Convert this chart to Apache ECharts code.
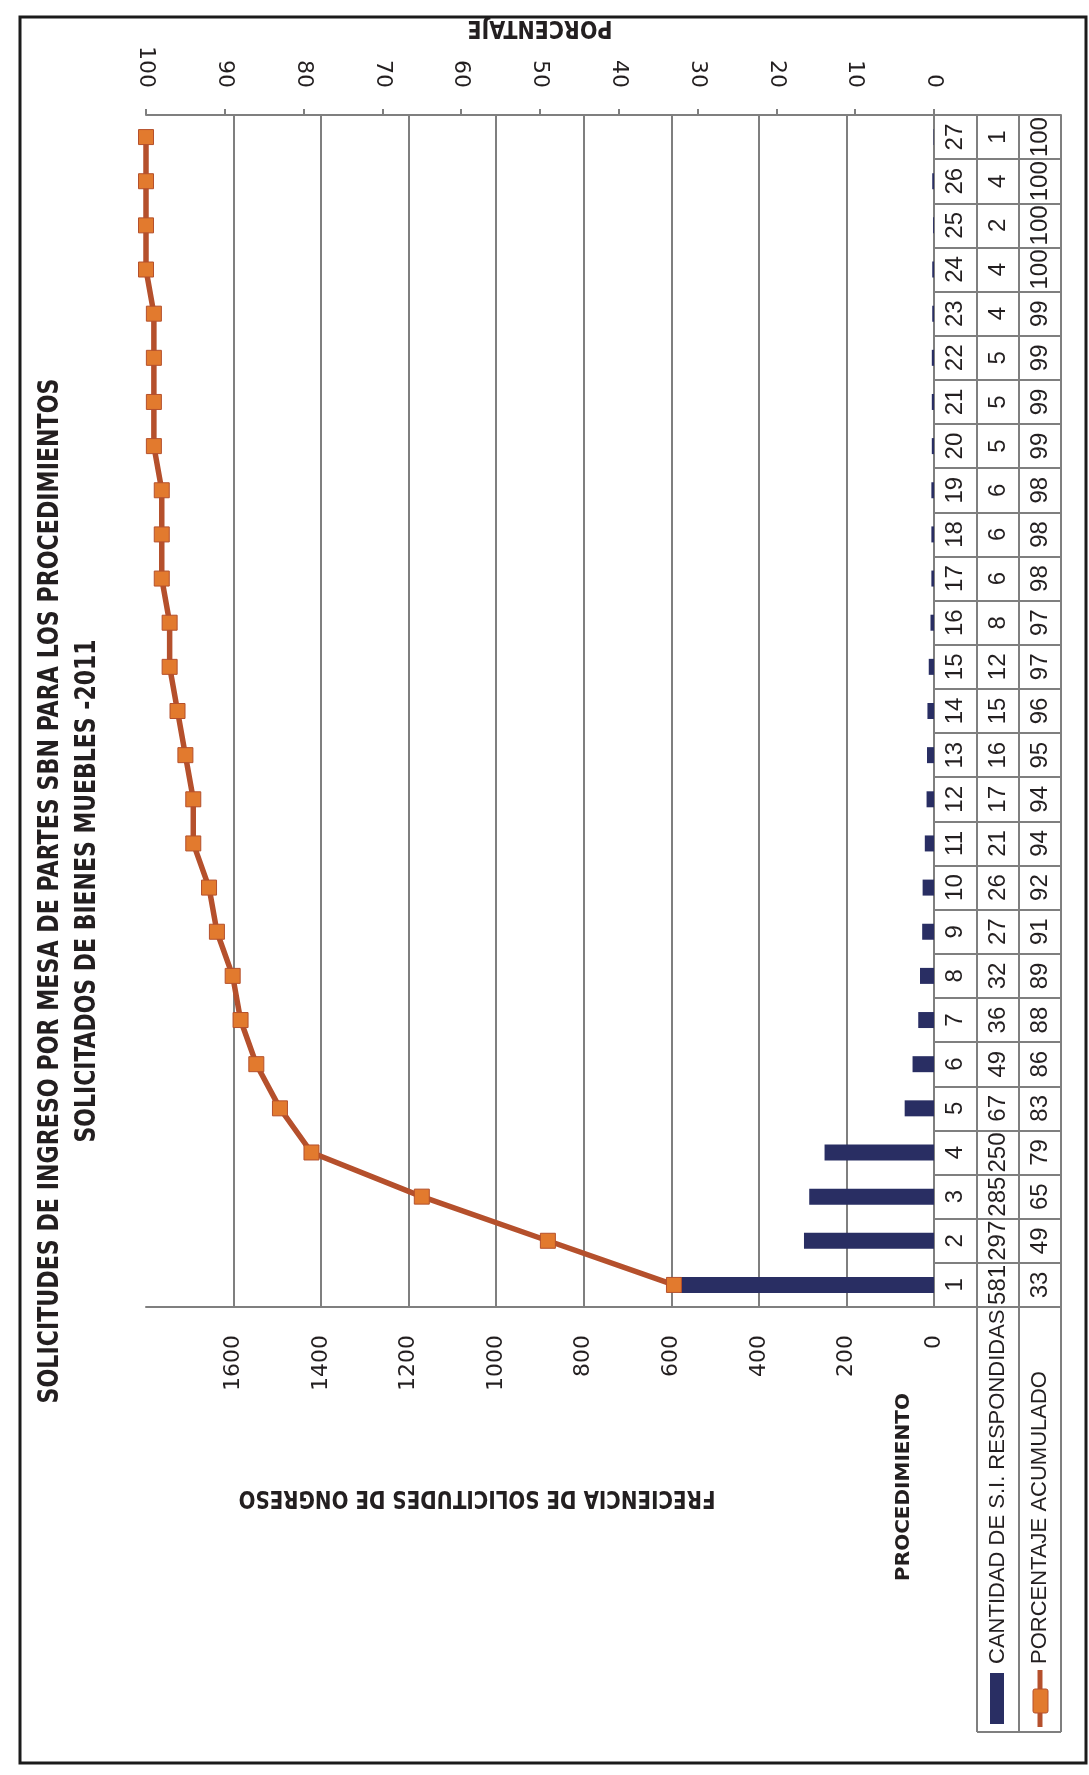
<!DOCTYPE html>
<html>
<head>
<meta charset="utf-8">
<title>Solicitudes de ingreso por mesa de partes SBN - 2011</title>
<script src="https://cdn.jsdelivr.net/npm/echarts@6/dist/echarts.min.js"></script>
<style>
  html, body { margin: 0; padding: 0; background: #ffffff; }
  #chart { width: 1089px; height: 1775px; }
</style>
</head>
<body>
<div id="chart"></div>
<script>
// Procedures (category axis, numbered 1..27)
const procedimientos = ['1','2','3','4','5','6','7','8','9','10','11','12','13','14',
  '15','16','17','18','19','20','21','22','23','24','25','26','27'];

// Answered requests per procedure
const cantidadRespondidas = [581, 297, 285, 250, 67, 49, 36, 32, 27, 26, 21, 17, 16, 15,
  12, 8, 6, 6, 6, 5, 5, 5, 4, 4, 2, 4, 1];

// Cumulative percentage per procedure
const porcentajeAcumulado = [33, 49, 65, 79, 83, 86, 88, 89, 91, 92, 94, 94, 95, 96,
  97, 97, 98, 98, 98, 99, 99, 99, 99, 100, 100, 100, 100];

// Tick labels of the two value axes
const frecuenciaTicks = [0, 200, 400, 600, 800, 1000, 1200, 1400, 1600];
const porcentajeTicks = [0, 10, 20, 30, 40, 50, 60, 70, 80, 90, 100];
const frecuenciaMax = 1800;

const tituloLineas = [
  'SOLICITUDES DE INGRESO POR MESA DE PARTES SBN PARA LOS PROCEDIMIENTOS',
  'SOLICITADOS DE BIENES MUEBLES -2011'
];
const serieNombres = ['CANTIDAD DE S.I. RESPONDIDAS', 'PORCENTAJE ACUMULADO'];

// ---- styling ----
const INK = '#231f20';
const GRIDGRAY = '#7f7f7f';
const NAVY = '#292e63';
const BROWN = '#b5502c';
const ORANGE = '#e27a2e';
const NARROW = '"Liberation Sans Narrow", "DejaVu Sans Condensed", "Arial Narrow", sans-serif';
const WIDE = '"DejaVu Sans", Verdana, sans-serif';
const TABLE = '"Liberation Sans", Arial, sans-serif';

// plot box (portrait layout: categories run bottom->top, values right->left)
const PLOT = { left: 146, right: 934, top: 115, bottom: 1307 };
const ROW = [934, 977, 1019, 1061];      // table row borders
const TABLE_END = 1732;                   // bottom of the header cells

const measureCtx = document.createElement('canvas').getContext('2d');
function fitScale(text, weight, size, family, target) {
  measureCtx.font = weight + ' ' + size + 'px ' + family;
  const w = measureCtx.measureText(text).width;
  return w > 0 ? target / w : 1;
}

function rotText(text, x, y, rot, size, family, weight, align, targetLen) {
  const el = {
    type: 'text', x: x, y: y, rotation: rot, silent: true, z: 10,
    style: {
      text: text, fontSize: size, fontFamily: family, fontWeight: weight,
      fill: INK, align: align, verticalAlign: 'middle'
    }
  };
  if (targetLen) el.scaleX = fitScale(text, weight, size, family, targetLen);
  return el;
}

const chart = echarts.init(document.getElementById('chart'), null, { renderer: 'canvas' });

const axisLabelBase = { fontFamily: WIDE, fontSize: 22, color: INK };
const tableLabelBase = { fontFamily: TABLE, fontSize: 24, color: INK, rotate: 90, margin: 9, interval: 0 };
const lineGray = { color: GRIDGRAY, width: 2 };

function tableAxis(offset, values) {
  return {
    type: 'category', position: 'right', offset: offset, data: procedimientos,
    axisLine: { show: true, onZero: false, lineStyle: lineGray },
    axisTick: { show: false },
    splitLine: { show: false },
    axisLabel: values
      ? Object.assign({}, tableLabelBase, { formatter: (v, i) => String(values[i]) })
      : { show: false }
  };
}

const option = {
  animation: false,
  backgroundColor: '#ffffff',
  grid: {
    left: PLOT.left, right: 1089 - PLOT.right, top: PLOT.top, bottom: 1775 - PLOT.bottom,
    containLabel: false
  },
  xAxis: [
    {
      type: 'value', position: 'bottom', inverse: true,
      min: frecuenciaTicks[0], max: frecuenciaMax,
      interval: frecuenciaTicks[1] - frecuenciaTicks[0],
      axisLine: { show: true, onZero: false, lineStyle: lineGray },
      axisTick: { show: false },
      axisLabel: Object.assign({}, axisLabelBase, {
        rotate: 90, margin: 28, showMaxLabel: false,
        formatter: v => (frecuenciaTicks.indexOf(v) >= 0 ? String(v) : '')
      }),
      splitLine: { show: true, showMaxLine: false, lineStyle: lineGray }
    },
    {
      type: 'value', position: 'top', inverse: true,
      min: porcentajeTicks[0], max: porcentajeTicks[porcentajeTicks.length - 1],
      interval: porcentajeTicks[1] - porcentajeTicks[0],
      axisLine: { show: true, onZero: false, lineStyle: lineGray },
      axisTick: { show: true, length: 6, lineStyle: lineGray },
      axisLabel: Object.assign({}, axisLabelBase, { rotate: 90, margin: 27 }),
      splitLine: { show: false }
    }
  ],
  yAxis: [
    {
      type: 'category', position: 'right', data: procedimientos,
      axisLine: { show: true, onZero: false, lineStyle: lineGray },
      axisTick: { show: true, interval: 0, length: ROW[3] - ROW[0], lineStyle: lineGray },
      splitLine: { show: false },
      axisLabel: Object.assign({}, tableLabelBase)
    },
    tableAxis(ROW[1] - ROW[0], cantidadRespondidas),
    tableAxis(ROW[2] - ROW[0], porcentajeAcumulado),
    tableAxis(ROW[3] - ROW[0], null)
  ],
  series: [
    {
      name: serieNombres[0], type: 'bar', xAxisIndex: 0, yAxisIndex: 0,
      data: cantidadRespondidas, barWidth: 16,
      itemStyle: { color: NAVY }
    },
    {
      name: serieNombres[1], type: 'line', xAxisIndex: 1, yAxisIndex: 0,
      data: porcentajeAcumulado, symbol: 'rect', symbolSize: 15,
      lineStyle: { color: BROWN, width: 5.5 },
      itemStyle: { color: ORANGE, borderColor: BROWN, borderWidth: 1 },
      z: 5
    }
  ],
  graphic: [
    // outer frame
    { type: 'rect', silent: true, z: 20,
      shape: { x: 20, y: 17, width: 1066, height: 1746 },
      style: { fill: 'none', stroke: '#1b1b1b', lineWidth: 3 } },
    // title (two lines, reading bottom to top)
    rotText(tituloLineas[0], 51, 891, Math.PI / 2, 28, NARROW, 'bold', 'center', 1025),
    rotText(tituloLineas[1], 88, 891, Math.PI / 2, 28, NARROW, 'bold', 'center', 503),
    // axis titles
    rotText('PORCENTAJE', 540, 27, Math.PI, 24, NARROW, 'bold', 'center', 145),
    rotText('FRECIENCIA DE SOLICITUDES DE ONGRESO', 477, 1497, Math.PI, 24, NARROW, 'bold', 'center', 477),
    rotText('PROCEDIMIENTO', 904, 1487, Math.PI / 2, 20, WIDE, 'bold', 'center', null),
    // header cells of the data table
    { type: 'line', silent: true, shape: { x1: ROW[1], y1: PLOT.bottom, x2: ROW[1], y2: TABLE_END }, style: { stroke: GRIDGRAY, lineWidth: 2 } },
    { type: 'line', silent: true, shape: { x1: ROW[2], y1: PLOT.bottom, x2: ROW[2], y2: TABLE_END }, style: { stroke: GRIDGRAY, lineWidth: 2 } },
    { type: 'line', silent: true, shape: { x1: ROW[3], y1: PLOT.bottom, x2: ROW[3], y2: TABLE_END }, style: { stroke: GRIDGRAY, lineWidth: 2 } },
    { type: 'line', silent: true, shape: { x1: ROW[1], y1: TABLE_END, x2: ROW[3], y2: TABLE_END }, style: { stroke: GRIDGRAY, lineWidth: 2 } },
    rotText(serieNombres[0], (ROW[1] + ROW[2]) / 2, 1664, Math.PI / 2, 22, TABLE, 'normal', 'left', null),
    rotText(serieNombres[1], (ROW[2] + ROW[3]) / 2, 1664, Math.PI / 2, 22, TABLE, 'normal', 'left', null),
    // legend keys
    { type: 'rect', silent: true, shape: { x: 990, y: 1673, width: 14, height: 51 }, style: { fill: NAVY } },
    { type: 'line', silent: true, shape: { x1: 1040, y1: 1670, x2: 1040, y2: 1727 }, style: { stroke: BROWN, lineWidth: 5 } },
    { type: 'rect', silent: true, shape: { x: 1033, y: 1689, width: 15, height: 24, r: 2 }, style: { fill: ORANGE, stroke: BROWN, lineWidth: 1 } }
  ]
};

chart.setOption(option);
</script>
</body>
</html>
